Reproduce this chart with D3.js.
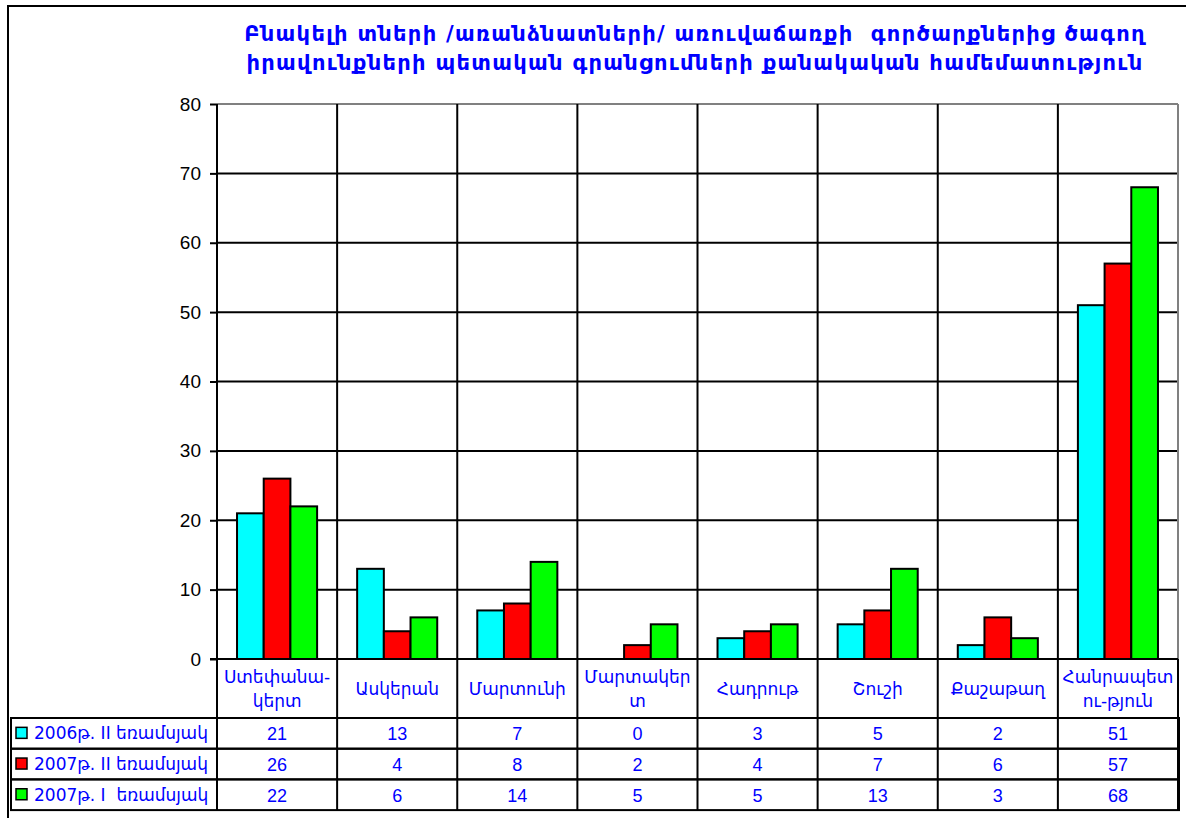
<!DOCTYPE html>
<html>
<head>
<meta charset="utf-8">
<script src="https://cdn.jsdelivr.net/npm/d3@7"></script>
<style>
  body { margin: 0; background: #fff; }
  svg { display: block; }
  text { font-family: "Liberation Sans", Arial, "DejaVu Sans", sans-serif; white-space: pre; }
  .arm { font-family: "DejaVu Sans", "Liberation Sans", sans-serif; }
</style>
</head>
<body>
<div id="chart"></div>
<script>
// chart data
var titleLines = [
  "Բնակելի տների /առանձնատների/ առուվաճառքի  գործարքներից ծագող",
  "իրավունքների պետական գրանցումների քանակական համեմատություն"
];
var categories = [
  ["Ստեփանա-", "կերտ"], ["Ասկերան"], ["Մարտունի"], ["Մարտակեր", "տ"],
  ["Հադրութ"], ["Շուշի"], ["Քաշաթաղ"], ["Հանրապետ", "ու-թյուն"]
];
var seriesNames = ["2006թ. II եռամսյակ", "2007թ. II եռամսյակ", "2007թ. I  եռամսյակ"];
var seriesColors = ["#00ffff", "#ff0000", "#00ff00"];
var q2_2006 = [21, 13, 7, 0, 3, 5, 2, 51];
var q2_2007 = [26, 4, 8, 2, 4, 7, 6, 57];
var q1_2007 = [22, 6, 14, 5, 5, 13, 3, 68];
var yTicks = [0, 10, 20, 30, 40, 50, 60, 70, 80];

var series = [q2_2006, q2_2007, q1_2007];

var svgWidth = 1186;
var svgHeight = 818;
var plot = { left: 217, right: 1178, top: 104, bottom: 659 };
var rowTop = 718, rowH = 30.7, legendLeft = 11;
var blue = "#0000ff";

var svg = d3.select("#chart").append("svg")
  .attr("width", svgWidth)
  .attr("height", svgHeight);

// outer frame (only top and left edges are in view)
svg.append("rect")
  .attr("x", 8).attr("y", 6)
  .attr("width", 1200).attr("height", 840)
  .attr("fill", "none").attr("stroke", "#000").attr("stroke-width", 2);

// title
svg.append("g").selectAll("text")
  .data(titleLines)
  .enter().append("text")
  .attr("class", "arm")
  .attr("x", 695)
  .attr("y", (d, i) => 41 + i * 29)
  .attr("text-anchor", "middle")
  .attr("font-size", 21)
  .attr("letter-spacing", 1.3)
  .attr("font-weight", "bold")
  .attr("fill", blue)
  .text(d => d);

// scales
var catIdx = categories.map((d, i) => i);
var x0 = d3.scaleBand().domain(catIdx).range([plot.left, plot.right]);
var x1 = d3.scaleBand().domain([0, 1, 2]).range([0, x0.bandwidth()])
  .paddingInner(0).paddingOuter(0.75);
var y = d3.scaleLinear().domain([0, 80]).range([plot.bottom, plot.top]);

// horizontal grid lines
svg.append("g").selectAll("line")
  .data(yTicks.filter(t => t > 0))
  .enter().append("line")
  .attr("x1", plot.left).attr("x2", plot.right)
  .attr("y1", d => y(d)).attr("y2", d => y(d))
  .attr("stroke", d => d === 80 ? "#808080" : "#000")
  .attr("stroke-width", 2);

// right border of plot
svg.append("line")
  .attr("x1", plot.right).attr("x2", plot.right)
  .attr("y1", plot.top).attr("y2", plot.bottom)
  .attr("stroke", "#808080").attr("stroke-width", 2);

// vertical separators running through the table
var seps = catIdx.map(i => x0(i)).concat([plot.right]);
svg.append("g").selectAll("line")
  .data(seps)
  .enter().append("line")
  .attr("x1", d => d).attr("x2", d => d)
  .attr("y1", (d, i) => i === seps.length - 1 ? plot.bottom : plot.top)
  .attr("y2", rowTop + 3 * rowH)
  .attr("stroke", "#000").attr("stroke-width", 2);

// bars
var groups = svg.append("g").selectAll("g")
  .data(catIdx)
  .enter().append("g")
  .attr("transform", d => `translate(${x0(d)},0)`);

groups.selectAll("rect")
  .data(c => series.map((s, k) => ({ k: k, v: s[c] })).filter(d => d.v > 0))
  .enter().append("rect")
  .attr("x", d => x1(d.k))
  .attr("width", x1.bandwidth())
  .attr("y", d => y(d.v))
  .attr("height", d => y(0) - y(d.v))
  .attr("fill", d => seriesColors[d.k])
  .attr("stroke", "#000")
  .attr("stroke-width", 2);

// y axis
var yAxis = d3.axisLeft(y).tickValues(yTicks).tickSize(7).tickPadding(9);
var ag = svg.append("g")
  .attr("transform", `translate(${plot.left},0)`)
  .call(yAxis);
ag.select(".domain").remove();
ag.selectAll(".tick line").attr("stroke", "#000").attr("stroke-width", 2);
ag.selectAll(".tick text")
  .attr("font-size", 19)
  .attr("font-family", "'Liberation Sans', Arial, sans-serif")
  .attr("fill", "#000");

svg.append("line")
  .attr("x1", plot.left).attr("x2", plot.left)
  .attr("y1", plot.top).attr("y2", plot.bottom)
  .attr("stroke", "#000").attr("stroke-width", 2);
svg.append("line")
  .attr("x1", plot.left - 7).attr("x2", plot.right)
  .attr("y1", plot.bottom).attr("y2", plot.bottom)
  .attr("stroke", "#000").attr("stroke-width", 2);

// category labels
var labelMid = (plot.bottom + rowTop) / 2;
var labs = svg.append("g").selectAll("text")
  .data(catIdx)
  .enter().append("text")
  .attr("class", "arm")
  .attr("text-anchor", "middle")
  .attr("font-size", 17)
  .attr("fill", blue);
labs.each(function(c) {
  var lines = categories[c];
  var t = d3.select(this);
  lines.forEach(function(ln, j) {
    t.append("tspan")
      .attr("x", x0(c) + x0.bandwidth() / 2)
      .attr("y", labelMid + 6 + (j - (lines.length - 1) / 2) * 24)
      .text(ln);
  });
});

// table rows
var rows = svg.append("g").selectAll("g")
  .data(series)
  .enter().append("g");

rows.append("rect")
  .attr("x", legendLeft)
  .attr("y", (d, i) => rowTop + i * rowH)
  .attr("width", plot.right + 1 - legendLeft)
  .attr("height", rowH)
  .attr("fill", "none").attr("stroke", "#000").attr("stroke-width", 2);

rows.append("rect")
  .attr("x", 16)
  .attr("y", (d, i) => rowTop + i * rowH + rowH / 2 - 6)
  .attr("width", 11).attr("height", 11)
  .attr("fill", (d, i) => seriesColors[i])
  .attr("stroke", "#000").attr("stroke-width", 1.5);

rows.append("text")
  .attr("class", "arm")
  .attr("x", 34)
  .attr("y", (d, i) => rowTop + i * rowH + rowH / 2 + 6)
  .attr("font-size", 17)
  .attr("fill", blue)
  .text((d, i) => seriesNames[i]);

rows.each(function(s, i) {
  d3.select(this).selectAll("text.val")
    .data(s)
    .enter().append("text")
    .attr("class", "val")
    .attr("x", (d, c) => x0(c) + x0.bandwidth() / 2)
    .attr("y", rowTop + i * rowH + rowH / 2 + 7)
    .attr("text-anchor", "middle")
    .attr("font-size", 18)
    .attr("fill", blue)
    .text(d => d);
});
</script>
</body>
</html>
